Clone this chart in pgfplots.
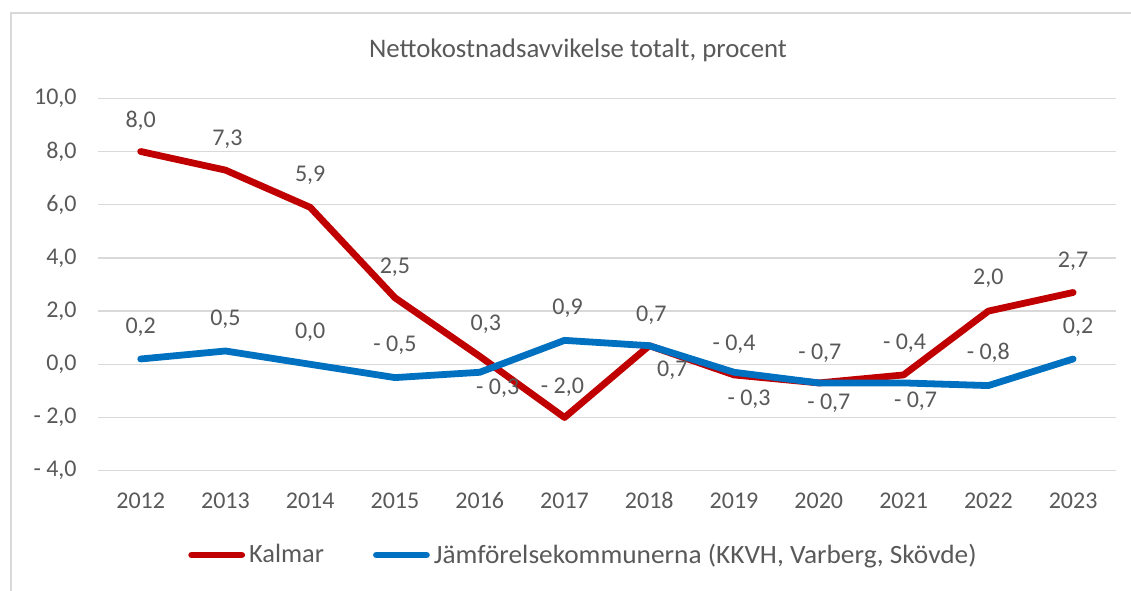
\documentclass[border=0pt]{standalone}
\usepackage{graphicx}
\usepackage{pgfplots}
\pgfplotsset{compat=1.18}
\usepackage{fontspec}
\setmainfont{Carlito}
\definecolor{kred}{HTML}{C00000}
\definecolor{kblue}{HTML}{0070C0}
\definecolor{txt}{HTML}{595959}
\definecolor{grd}{HTML}{D9D9D9}
\begin{document}
\begin{tikzpicture}[font=\fontsize{12}{14.4}\selectfont]
\useasboundingbox (0,0) rectangle (565.5pt,295pt);
\draw[grd, line width=0.75pt] (5.5pt,-5pt) -- (5.5pt,288.6pt) -- (570pt,288.6pt);
\begin{axis}[
  at={(49.15pt,59.65pt)}, anchor=south west,
  scale only axis, width=508.6pt, height=186.2pt,
  xmin=-0.5, xmax=11.5, ymin=-4, ymax=10,
  axis line style={draw=none},
  xtick={0,1,2,3,4,5,6,7,8,9,10,11},
  xticklabels={2012,2013,2014,2015,2016,2017,2018,2019,2020,2021,2022,2023},
  ytick={-4,-2,0,2,4,6,8,10},
  yticklabels={{- 4,0},{- 2,0},{0,0},{2,0},{4,0},{6,0},{8,0},{10,0}},
  major tick length=0pt, tick style={draw=none},
  ymajorgrids, grid style={grd, line width=0.75pt},
  tick label style={font=\fontsize{12}{14.4}\selectfont, text=txt},
  xticklabel style={yshift=-7.6pt, text height=7.6pt, text depth=0pt},
  yticklabel style={xshift=-7.3pt},
  title={Nettokostnadsavvikelse totalt, procent},
  every axis title shift=0pt,
  title style={at={(axis description cs:0.4716,1.1297)}, anchor=center, text=txt, font=\fontsize{13.4}{16}\selectfont},
  legend columns=2,
  legend style={draw=none, fill=none, at={(axis description cs:0.0822,-0.2264)}, anchor=west,
    font=\fontsize{13.2}{15.8}\selectfont, text=txt,
    /tikz/every even column/.append style={column sep=22.5pt}},
  legend image code/.code={\draw[#1, line width=3.4pt, line cap=round] (0pt,0pt) -- (25pt,0pt);},
]
\addplot[kred, line width=3.4pt, line join=round, line cap=round] coordinates {
 (0,8.0) (1,7.3) (2,5.9) (3,2.5) (4,0.3) (5,-2.0) (6,0.7) (7,-0.4) (8,-0.7) (9,-0.4) (10,2.0) (11,2.7)};
\addlegendentry{Kalmar}
\addplot[kblue, line width=3.4pt, line join=round, line cap=round] coordinates {
 (0,0.2) (1,0.5) (2,0.0) (3,-0.5) (4,-0.3) (5,0.9) (6,0.7) (7,-0.3) (8,-0.7) (9,-0.7) (10,-0.8) (11,0.2)};
\addlegendentry{\scalebox{1.035}[1]{Jämförelsekommunerna (KKVH, Varberg, Skövde)}}
\addplot[draw=none, forget plot, nodes near coords, point meta=explicit symbolic,
  visualization depends on={value \thisrow{dx}\as\dx},
  visualization depends on={value \thisrow{dy}\as\dy},
  nodes near coords align={anchor=center},
  every node near coord/.append style={anchor=center, xshift=\dx pt, yshift=\dy pt, text=txt, font=\fontsize{12}{14.4}\selectfont}]
  table[x=x, y=y, meta=lab, col sep=semicolon, row sep=\\] {
x;y;dx;dy;lab\\
0;8.0;0;15.5;8,0\\
1;7.3;1;15.5;7,3\\
2;5.9;0;16;5,9\\
3;2.5;0;15.5;2,5\\
4;0.3;3;16;0,3\\
5;-2.0;-1;15;- 2,0\\
6;0.7;11.5;-12.5;0,7\\
7;-0.4;0;15.5;- 0,4\\
8;-0.7;0.5;15;- 0,7\\
9;-0.4;0.5;16;- 0,4\\
10;2.0;0;16.5;2,0\\
11;2.7;0;15.5;2,7\\
};
\addplot[draw=none, forget plot, nodes near coords, point meta=explicit symbolic,
  visualization depends on={value \thisrow{dx}\as\dx},
  visualization depends on={value \thisrow{dy}\as\dy},
  nodes near coords align={anchor=center},
  every node near coord/.append style={anchor=center, xshift=\dx pt, yshift=\dy pt, text=txt, font=\fontsize{12}{14.4}\selectfont}]
  table[x=x, y=y, meta=lab, col sep=semicolon, row sep=\\] {
x;y;dx;dy;lab\\
0;0.2;0;16;0,2\\
1;0.5;0;16;0,5\\
2;0.0;0;16;0,0\\
3;-0.5;0;16;- 0,5\\
4;-0.3;9;-8;- 0,3\\
5;0.9;1.5;16;0,9\\
6;0.7;1;15;0,7\\
7;-0.3;7.5;-13.5;- 0,3\\
8;-0.7;5;-10;- 0,7\\
9;-0.7;6;-9;- 0,7\\
10;-0.8;0;16.5;- 0,8\\
11;0.2;2.5;16;0,2\\
};
\end{axis}
\end{tikzpicture}
\end{document}
